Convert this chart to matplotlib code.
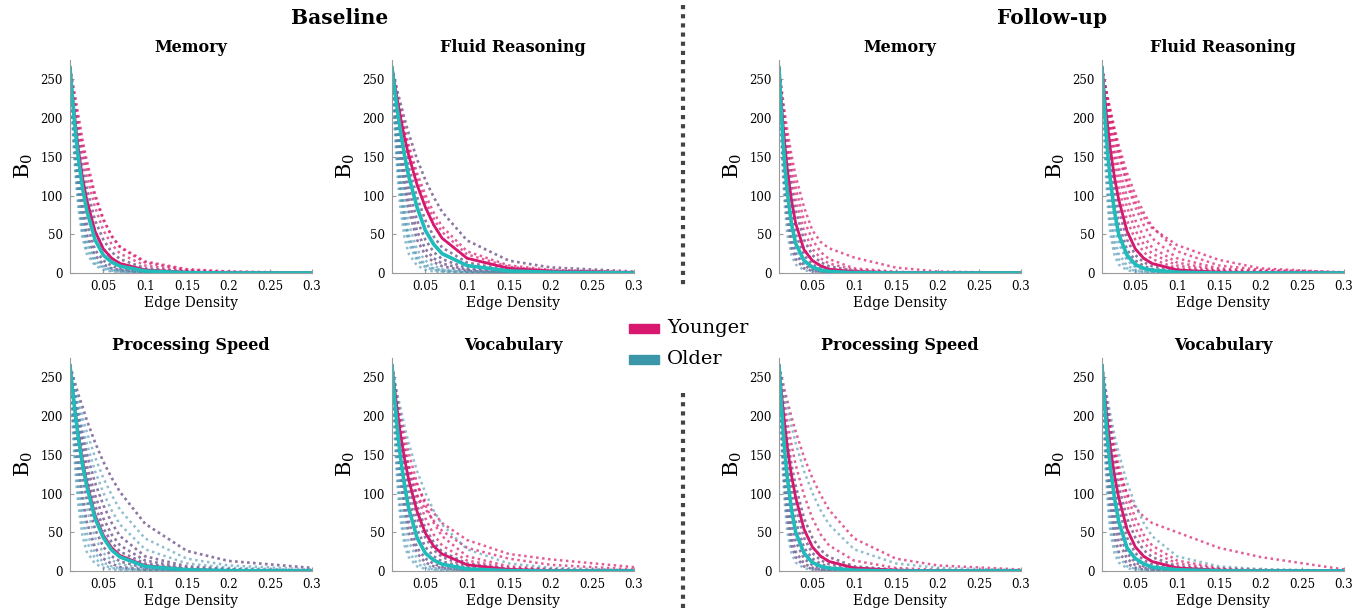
import matplotlib
matplotlib.use('Agg')
import matplotlib.pyplot as plt
from matplotlib.patches import Rectangle
from matplotlib.lines import Line2D
from matplotlib.ticker import FormatStrFormatter

plt.rcParams['font.family'] = ['DejaVu Serif']
plt.rcParams['mathtext.fontset'] = 'dejavuserif'

edge_density = [0.01, 0.0125, 0.015, 0.0175, 0.02, 0.025, 0.03, 0.04, 0.05, 0.06, 0.07, 0.1, 0.15, 0.2, 0.3]

titles = ['Memory', 'Fluid Reasoning', 'Processing Speed', 'Vocabulary']
groups = ['Younger', 'Older']

# ---------------- Baseline: Memory ----------------
bl_mem_younger = [
    [265, 220, 180, 147, 120, 79, 50, 23, 11, 6, 3.7, 1, 0, 0, 0],
    [265, 225, 190, 160, 134, 94, 64, 30, 16, 9.3, 5, 1.6, 0.2, 0, 0],
    [265, 231, 200, 172, 148, 110, 81, 43, 23, 14, 8.8, 2.6, 0.4, 0, 0],
    [265, 235, 208, 183, 160, 123, 95, 54, 31, 19, 12.3, 4, 1, 0.2, 0],
    [265, 239, 215, 193, 172, 137, 110, 68, 43, 27, 18, 6, 1.6, 0.4, 0],
    [265, 243, 222, 202, 184, 152, 125, 85, 55, 37, 25, 9.6, 2.6, 1, 0],
    [265, 246, 227, 210, 193, 163, 137, 98, 68, 47, 33, 13.5, 3.9, 1.5, 0.2],
    [265, 250, 236, 220, 204, 172, 146, 102, 70, 48, 34, 15, 5, 2, 0.3],
]
bl_mem_older = [
    [265, 202, 152, 114, 85, 45, 25, 9.6, 4.1, 1.9, 1.2, 0.1, 0, 0, 0],
    [265, 207, 160, 123, 94, 54, 31, 12.5, 5.8, 2.9, 1.6, 0.2, 0, 0, 0],
    [265, 212, 168, 132, 104, 63, 38, 16, 7.5, 3.9, 2, 0.4, 0, 0, 0],
    [265, 216, 174, 140, 112, 71, 44, 19.5, 9.2, 5, 2.8, 0.7, 0, 0, 0],
    [265, 220, 180, 147, 120, 79, 50, 23, 11, 6, 3.7, 1, 0, 0, 0],
    [265, 225, 190, 160, 134, 94, 64, 30, 16, 9.3, 5, 1.6, 0.2, 0, 0],
    [265, 231, 200, 172, 148, 110, 81, 43, 23, 14, 8.8, 2.6, 0.4, 0, 0],
    [265, 235, 208, 183, 160, 123, 95, 54, 31, 19, 12.3, 4, 1, 0.2, 0],
    [265, 239, 215, 193, 172, 137, 110, 68, 43, 27, 18, 6, 1.6, 0.4, 0],
]
bl_mem_younger_mean = [265, 235, 208, 183, 160, 123, 95, 54, 31, 19, 12.3, 4, 1, 0.2, 0]
bl_mem_older_mean = [265, 231, 200, 172, 148, 110, 81, 43, 23, 14, 8.8, 2.6, 0.4, 0, 0]

# ---------------- Baseline: Fluid Reasoning ----------------
bl_flu_younger = [
    [265, 231, 200, 172, 148, 110, 81, 43, 23, 14, 8.8, 2.6, 0.4, 0, 0],
    [265, 235, 208, 183, 160, 123, 95, 54, 31, 19, 12.3, 4, 1, 0.2, 0],
    [265, 239, 215, 193, 172, 137, 110, 68, 43, 27, 18, 6, 1.6, 0.4, 0],
    [265, 243, 222, 202, 184, 152, 125, 85, 55, 37, 25, 9.6, 2.6, 1, 0],
    [265, 246, 227, 210, 193, 163, 137, 98, 68, 47, 33, 13.5, 3.9, 1.5, 0.2],
    [265, 248, 232, 217, 202, 175, 152, 114, 85, 62, 45, 19, 6, 2.4, 0.4],
    [265, 250, 235, 220, 207, 181, 158, 121, 93, 70, 53, 24, 8, 3.2, 0.7],
    [265, 251, 237, 223, 211, 187, 165, 129, 101, 78, 60, 28, 9.8, 4.1, 1.1],
    [265, 253, 242, 230, 220, 199, 180, 147, 120, 98, 79, 42, 16, 7.2, 1.9],
]
bl_flu_older = [
    [265, 202, 152, 114, 85, 45, 25, 9.6, 4.1, 1.9, 1.2, 0.1, 0, 0, 0],
    [265, 212, 168, 132, 104, 63, 38, 16, 7.5, 3.9, 2, 0.4, 0, 0, 0],
    [265, 216, 174, 140, 112, 71, 44, 19.5, 9.2, 5, 2.8, 0.7, 0, 0, 0],
    [265, 220, 180, 147, 120, 79, 50, 23, 11, 6, 3.7, 1, 0, 0, 0],
    [265, 225, 190, 160, 134, 94, 64, 30, 16, 9.3, 5, 1.6, 0.2, 0, 0],
    [265, 231, 200, 172, 148, 110, 81, 43, 23, 14, 8.8, 2.6, 0.4, 0, 0],
    [265, 235, 208, 183, 160, 123, 95, 54, 31, 19, 12.3, 4, 1, 0.2, 0],
    [265, 239, 215, 193, 172, 137, 110, 68, 43, 27, 18, 6, 1.6, 0.4, 0],
    [265, 243, 222, 202, 184, 152, 125, 85, 55, 37, 25, 9.6, 2.6, 1, 0],
    [265, 246, 227, 210, 193, 163, 137, 98, 68, 47, 33, 13.5, 3.9, 1.5, 0.2],
    [265, 253, 242, 230, 220, 199, 180, 147, 120, 98, 79, 42, 16, 7.2, 1.9],
]
bl_flu_younger_mean = [265, 248, 232, 217, 202, 175, 152, 114, 85, 62, 45, 19, 6, 2.4, 0.4]
bl_flu_older_mean = [265, 243, 222, 202, 184, 152, 125, 85, 55, 37, 25, 9.6, 2.6, 1, 0]

# ---------------- Baseline: Processing Speed ----------------
bl_spd_younger = [
    [265, 225, 190, 160, 134, 94, 64, 30, 16, 9.3, 5, 1.6, 0.2, 0, 0],
    [265, 235, 208, 183, 160, 123, 95, 54, 31, 19, 12.3, 4, 1, 0.2, 0],
    [265, 239, 215, 193, 172, 137, 110, 68, 43, 27, 18, 6, 1.6, 0.4, 0],
    [265, 243, 222, 202, 184, 152, 125, 85, 55, 37, 25, 9.6, 2.6, 1, 0],
    [265, 246, 227, 210, 193, 163, 137, 98, 68, 47, 33, 13.5, 3.9, 1.5, 0.2],
    [265, 248, 232, 217, 202, 175, 152, 114, 85, 62, 45, 19, 6, 2.4, 0.4],
    [265, 256, 246, 237, 228, 212, 195, 166, 141, 120, 102, 61, 26, 13, 4],
]
bl_spd_older = [
    [265, 202, 152, 114, 85, 45, 25, 9.6, 4.1, 1.9, 1.2, 0.1, 0, 0, 0],
    [265, 212, 168, 132, 104, 63, 38, 16, 7.5, 3.9, 2, 0.4, 0, 0, 0],
    [265, 220, 180, 147, 120, 79, 50, 23, 11, 6, 3.7, 1, 0, 0, 0],
    [265, 225, 190, 160, 134, 94, 64, 30, 16, 9.3, 5, 1.6, 0.2, 0, 0],
    [265, 231, 200, 172, 148, 110, 81, 43, 23, 14, 8.8, 2.6, 0.4, 0, 0],
    [265, 235, 208, 183, 160, 123, 95, 54, 31, 19, 12.3, 4, 1, 0.2, 0],
    [265, 239, 215, 193, 172, 137, 110, 68, 43, 27, 18, 6, 1.6, 0.4, 0],
    [265, 243, 222, 202, 184, 152, 125, 85, 55, 37, 25, 9.6, 2.6, 1, 0],
    [265, 246, 227, 210, 193, 163, 137, 98, 68, 47, 33, 13.5, 3.9, 1.5, 0.2],
    [265, 248, 232, 217, 202, 175, 152, 114, 85, 62, 45, 19, 6, 2.4, 0.4],
    [265, 251, 237, 223, 211, 187, 165, 129, 101, 78, 60, 28, 9.8, 4.1, 1.1],
    [265, 253, 242, 230, 220, 199, 180, 147, 120, 98, 79, 42, 16, 7.2, 1.9],
    [265, 256, 246, 237, 228, 212, 195, 166, 141, 120, 102, 61, 26, 13, 4],
]
bl_spd_younger_mean = [265, 240, 217, 196, 176, 142, 115, 72, 46, 30, 20, 7, 1.8, 0.5, 0]
bl_spd_older_mean = [265, 239, 215, 193, 172, 137, 110, 68, 43, 27, 18, 6, 1.6, 0.4, 0]

# ---------------- Baseline: Vocabulary ----------------
bl_voc_younger = [
    [265, 220, 180, 147, 120, 79, 50, 23, 11, 6, 3.7, 1, 0, 0, 0],
    [265, 225, 190, 160, 134, 94, 64, 30, 16, 9.3, 5, 1.6, 0.2, 0, 0],
    [265, 231, 200, 172, 148, 110, 81, 43, 23, 14, 8.8, 2.6, 0.4, 0, 0],
    [265, 235, 208, 183, 160, 123, 95, 54, 31, 19, 12.3, 4, 1, 0.2, 0],
    [265, 239, 215, 193, 172, 137, 110, 68, 43, 27, 18, 6, 1.6, 0.4, 0],
    [265, 243, 222, 202, 184, 152, 125, 85, 55, 37, 25, 9.6, 2.6, 1, 0],
    [265, 246, 227, 210, 193, 163, 137, 98, 68, 47, 33, 13.5, 3.9, 1.5, 0.2],
    [265, 248, 232, 217, 202, 175, 152, 114, 85, 62, 45, 19, 6, 2.4, 0.4],
    [265, 240, 215, 194, 175, 145, 125, 98, 80, 65, 52, 30, 16, 8, 2],
    [265, 245, 222, 203, 185, 155, 135, 110, 90, 75, 62, 40, 22, 15, 5],
]
bl_voc_older = [
    [265, 193, 137, 98, 68, 33, 18, 6, 2.6, 1.3, 0.5, 0, 0, 0, 0],
    [265, 202, 152, 114, 85, 45, 25, 9.6, 4.1, 1.9, 1.2, 0.1, 0, 0, 0],
    [265, 212, 168, 132, 104, 63, 38, 16, 7.5, 3.9, 2, 0.4, 0, 0, 0],
    [265, 220, 180, 147, 120, 79, 50, 23, 11, 6, 3.7, 1, 0, 0, 0],
    [265, 225, 190, 160, 134, 94, 64, 30, 16, 9.3, 5, 1.6, 0.2, 0, 0],
    [265, 231, 200, 172, 148, 110, 81, 43, 23, 14, 8.8, 2.6, 0.4, 0, 0],
    [265, 235, 208, 183, 160, 123, 95, 54, 31, 19, 12.3, 4, 1, 0.2, 0],
    [265, 239, 215, 193, 172, 137, 110, 68, 43, 27, 18, 6, 1.6, 0.4, 0],
    [265, 243, 222, 202, 184, 152, 125, 85, 55, 37, 25, 9.6, 2.6, 1, 0],
    [265, 251, 237, 223, 211, 187, 165, 129, 101, 78, 60, 28, 9.8, 4.1, 1.1],
]
bl_voc_younger_mean = [265, 241, 219, 198, 178, 145, 118, 77, 49, 32, 22, 8, 2, 0.6, 0]
bl_voc_older_mean = [265, 231, 200, 172, 148, 110, 81, 43, 23, 14, 8.8, 2.6, 0.4, 0, 0]

# ---------------- Follow-up: Memory ----------------
fu_mem_younger = [
    [265, 193, 137, 98, 68, 33, 18, 6, 2.6, 1.3, 0.5, 0, 0, 0, 0],
    [265, 202, 152, 114, 85, 45, 25, 9.6, 4.1, 1.9, 1.2, 0.1, 0, 0, 0],
    [265, 212, 168, 132, 104, 63, 38, 16, 7.5, 3.9, 2, 0.4, 0, 0, 0],
    [265, 220, 180, 147, 120, 79, 50, 23, 11, 6, 3.7, 1, 0, 0, 0],
    [265, 225, 190, 160, 134, 94, 64, 30, 16, 9.3, 5, 1.6, 0.2, 0, 0],
    [265, 231, 200, 172, 148, 110, 81, 43, 23, 14, 8.8, 2.6, 0.4, 0, 0],
    [265, 235, 208, 183, 160, 123, 95, 54, 31, 19, 12.3, 4, 1, 0.2, 0],
    [265, 239, 215, 193, 172, 137, 110, 68, 43, 27, 18, 6, 1.6, 0.4, 0],
    [265, 243, 222, 202, 184, 152, 125, 85, 55, 40, 32, 20, 7, 2, 0],
]
fu_mem_older = [
    [265, 180, 120, 79, 50, 23, 11, 3.7, 1.5, 0.5, 0.2, 0, 0, 0, 0],
    [265, 193, 137, 98, 68, 33, 18, 6, 2.6, 1.3, 0.5, 0, 0, 0, 0],
    [265, 202, 152, 114, 85, 45, 25, 9.6, 4.1, 1.9, 1.2, 0.1, 0, 0, 0],
    [265, 207, 160, 123, 94, 54, 31, 12.5, 5.8, 2.9, 1.6, 0.2, 0, 0, 0],
    [265, 212, 168, 132, 104, 63, 38, 16, 7.5, 3.9, 2, 0.4, 0, 0, 0],
    [265, 220, 180, 147, 120, 79, 50, 23, 11, 6, 3.7, 1, 0, 0, 0],
    [265, 225, 190, 160, 134, 94, 64, 30, 16, 9.3, 5, 1.6, 0.2, 0, 0],
    [265, 231, 200, 172, 148, 110, 81, 43, 23, 14, 8.8, 2.6, 0.4, 0, 0],
]
fu_mem_younger_mean = [265, 225, 190, 160, 134, 94, 64, 30, 16, 9.3, 5, 1.6, 0.2, 0, 0]
fu_mem_older_mean = [265, 212, 168, 132, 104, 63, 38, 16, 7.5, 3.9, 2, 0.4, 0, 0, 0]

# ---------------- Follow-up: Fluid Reasoning ----------------
fu_flu_younger = [
    [265, 220, 180, 147, 120, 79, 50, 23, 11, 6, 3.7, 1, 0, 0, 0],
    [265, 225, 190, 160, 134, 94, 64, 30, 16, 9.3, 5, 1.6, 0.2, 0, 0],
    [265, 231, 200, 172, 148, 110, 81, 43, 23, 14, 8.8, 2.6, 0.4, 0, 0],
    [265, 235, 208, 183, 160, 123, 95, 54, 31, 19, 12.3, 4, 1, 0.2, 0],
    [265, 239, 215, 193, 172, 137, 110, 68, 43, 27, 18, 6, 1.6, 0.4, 0],
    [265, 243, 222, 202, 184, 152, 125, 85, 55, 37, 25, 9.6, 2.6, 1, 0],
    [265, 246, 227, 210, 193, 163, 137, 98, 68, 47, 33, 13.5, 3.9, 1.5, 0.2],
    [265, 248, 232, 217, 202, 175, 152, 114, 85, 62, 45, 19, 6, 2.4, 0.4],
    [265, 251, 237, 223, 211, 187, 165, 129, 101, 78, 60, 28, 9.8, 4.1, 1.1],
    [265, 250, 236, 222, 208, 182, 158, 120, 92, 72, 58, 36, 17, 6, 0.5],
]
fu_flu_older = [
    [265, 180, 120, 79, 50, 23, 11, 3.7, 1.5, 0.5, 0.2, 0, 0, 0, 0],
    [265, 193, 137, 98, 68, 33, 18, 6, 2.6, 1.3, 0.5, 0, 0, 0, 0],
    [265, 202, 152, 114, 85, 45, 25, 9.6, 4.1, 1.9, 1.2, 0.1, 0, 0, 0],
    [265, 212, 168, 132, 104, 63, 38, 16, 7.5, 3.9, 2, 0.4, 0, 0, 0],
    [265, 216, 174, 140, 112, 71, 44, 19.5, 9.2, 5, 2.8, 0.7, 0, 0, 0],
    [265, 220, 180, 147, 120, 79, 50, 23, 11, 6, 3.7, 1, 0, 0, 0],
    [265, 225, 190, 160, 134, 94, 64, 30, 16, 9.3, 5, 1.6, 0.2, 0, 0],
    [265, 231, 200, 172, 148, 110, 81, 43, 23, 14, 8.8, 2.6, 0.4, 0, 0],
    [265, 235, 208, 183, 160, 123, 95, 54, 31, 19, 12.3, 4, 1, 0.2, 0],
]
fu_flu_younger_mean = [265, 235, 208, 183, 160, 123, 95, 54, 31, 19, 12.3, 4, 1, 0.2, 0]
fu_flu_older_mean = [265, 220, 180, 147, 120, 79, 50, 23, 11, 6, 3.7, 1, 0, 0, 0]

# ---------------- Follow-up: Processing Speed ----------------
fu_spd_younger = [
    [265, 193, 137, 98, 68, 33, 18, 6, 2.6, 1.3, 0.5, 0, 0, 0, 0],
    [265, 202, 152, 114, 85, 45, 25, 9.6, 4.1, 1.9, 1.2, 0.1, 0, 0, 0],
    [265, 212, 168, 132, 104, 63, 38, 16, 7.5, 3.9, 2, 0.4, 0, 0, 0],
    [265, 220, 180, 147, 120, 79, 50, 23, 11, 6, 3.7, 1, 0, 0, 0],
    [265, 225, 190, 160, 134, 94, 64, 30, 16, 9.3, 5, 1.6, 0.2, 0, 0],
    [265, 231, 200, 172, 148, 110, 81, 43, 23, 14, 8.8, 2.6, 0.4, 0, 0],
    [265, 235, 208, 183, 160, 123, 95, 54, 31, 19, 12.3, 4, 1, 0.2, 0],
    [265, 239, 215, 193, 172, 137, 110, 68, 43, 27, 18, 6, 1.6, 0.4, 0],
    [265, 246, 227, 210, 193, 163, 137, 98, 68, 47, 33, 13.5, 3.9, 1.5, 0.2],
    [265, 253, 242, 230, 220, 199, 180, 147, 120, 98, 79, 42, 16, 7.2, 1.9],
]
fu_spd_older = [
    [265, 180, 120, 79, 50, 23, 11, 3.7, 1.5, 0.5, 0.2, 0, 0, 0, 0],
    [265, 193, 137, 98, 68, 33, 18, 6, 2.6, 1.3, 0.5, 0, 0, 0, 0],
    [265, 202, 152, 114, 85, 45, 25, 9.6, 4.1, 1.9, 1.2, 0.1, 0, 0, 0],
    [265, 212, 168, 132, 104, 63, 38, 16, 7.5, 3.9, 2, 0.4, 0, 0, 0],
    [265, 220, 180, 147, 120, 79, 50, 23, 11, 6, 3.7, 1, 0, 0, 0],
    [265, 225, 190, 160, 134, 94, 64, 30, 16, 9.3, 5, 1.6, 0.2, 0, 0],
    [265, 231, 200, 172, 148, 110, 81, 43, 23, 14, 8.8, 2.6, 0.4, 0, 0],
    [265, 235, 208, 183, 160, 123, 95, 54, 31, 19, 12.3, 4, 1, 0.2, 0],
    [265, 239, 215, 193, 172, 137, 110, 68, 43, 27, 18, 6, 1.6, 0.4, 0],
    [265, 251, 237, 223, 211, 187, 165, 129, 101, 78, 60, 28, 9.8, 4.1, 1.1],
]
fu_spd_younger_mean = [265, 235, 208, 183, 160, 123, 95, 54, 31, 19, 12.3, 4, 1, 0.2, 0]
fu_spd_older_mean = [265, 220, 180, 147, 120, 79, 50, 23, 11, 6, 3.7, 1, 0, 0, 0]

# ---------------- Follow-up: Vocabulary ----------------
fu_voc_younger = [
    [265, 202, 152, 114, 85, 45, 25, 9.6, 4.1, 1.9, 1.2, 0.1, 0, 0, 0],
    [265, 212, 168, 132, 104, 63, 38, 16, 7.5, 3.9, 2, 0.4, 0, 0, 0],
    [265, 220, 180, 147, 120, 79, 50, 23, 11, 6, 3.7, 1, 0, 0, 0],
    [265, 225, 190, 160, 134, 94, 64, 30, 16, 9.3, 5, 1.6, 0.2, 0, 0],
    [265, 231, 200, 172, 148, 110, 81, 43, 23, 14, 8.8, 2.6, 0.4, 0, 0],
    [265, 235, 208, 183, 160, 123, 95, 54, 31, 19, 12.3, 4, 1, 0.2, 0],
    [265, 239, 215, 193, 172, 137, 110, 68, 43, 27, 18, 6, 1.6, 0.4, 0],
    [265, 243, 222, 202, 184, 152, 125, 85, 55, 37, 25, 9.6, 2.6, 1, 0],
    [265, 246, 227, 210, 193, 163, 137, 98, 68, 47, 33, 13.5, 3.9, 1.5, 0.2],
    [265, 240, 218, 198, 180, 150, 128, 100, 82, 70, 62, 50, 30, 18, 2],
]
fu_voc_older = [
    [265, 180, 120, 79, 50, 23, 11, 3.7, 1.5, 0.5, 0.2, 0, 0, 0, 0],
    [265, 193, 137, 98, 68, 33, 18, 6, 2.6, 1.3, 0.5, 0, 0, 0, 0],
    [265, 202, 152, 114, 85, 45, 25, 9.6, 4.1, 1.9, 1.2, 0.1, 0, 0, 0],
    [265, 212, 168, 132, 104, 63, 38, 16, 7.5, 3.9, 2, 0.4, 0, 0, 0],
    [265, 220, 180, 147, 120, 79, 50, 23, 11, 6, 3.7, 1, 0, 0, 0],
    [265, 225, 190, 160, 134, 94, 64, 30, 16, 9.3, 5, 1.6, 0.2, 0, 0],
    [265, 231, 200, 172, 148, 110, 81, 43, 23, 14, 8.8, 2.6, 0.4, 0, 0],
    [265, 235, 208, 183, 160, 123, 95, 54, 31, 19, 12.3, 4, 1, 0.2, 0],
    [265, 239, 215, 193, 172, 137, 110, 68, 43, 27, 18, 6, 1.6, 0.4, 0],
    [265, 248, 232, 217, 202, 175, 152, 114, 85, 62, 45, 19, 6, 2.4, 0.4],
]
fu_voc_younger_mean = [265, 235, 208, 183, 160, 123, 95, 54, 31, 19, 12.3, 4, 1, 0.2, 0]
fu_voc_older_mean = [265, 225, 190, 160, 134, 94, 64, 30, 16, 9.3, 5, 1.6, 0.2, 0, 0]

PINK = '#d8186e'
TEAL = '#3b97a8'
TEAL_DOT = '#4592b0'
TEAL_LINE = '#1fbcbc'
W, H = 1364, 616

# (left px, top px) of every panel; width / height in px
col_left = [70, 392, 779, 1102]
row_top = [60, 358]
ax_w, ax_h = 242, 213

panels = [
    (0, 0, titles[0], bl_mem_younger, bl_mem_older, bl_mem_younger_mean, bl_mem_older_mean),
    (0, 1, titles[1], bl_flu_younger, bl_flu_older, bl_flu_younger_mean, bl_flu_older_mean),
    (1, 0, titles[2], bl_spd_younger, bl_spd_older, bl_spd_younger_mean, bl_spd_older_mean),
    (1, 1, titles[3], bl_voc_younger, bl_voc_older, bl_voc_younger_mean, bl_voc_older_mean),
    (0, 2, titles[0], fu_mem_younger, fu_mem_older, fu_mem_younger_mean, fu_mem_older_mean),
    (0, 3, titles[1], fu_flu_younger, fu_flu_older, fu_flu_younger_mean, fu_flu_older_mean),
    (1, 2, titles[2], fu_spd_younger, fu_spd_older, fu_spd_younger_mean, fu_spd_older_mean),
    (1, 3, titles[3], fu_voc_younger, fu_voc_older, fu_voc_younger_mean, fu_voc_older_mean),
]

fig = plt.figure(figsize=(W / 100, H / 100), dpi=100)

for row, col, title, young, old, young_mean, old_mean in panels:
    left = col_left[col] / W
    bottom = 1 - (row_top[row] + ax_h) / H
    ax = fig.add_axes([left, bottom, ax_w / W, ax_h / H])
    for c in young:
        ax.plot(edge_density, c, color=PINK, lw=1.8, ls=(0, (1, 1.4)), alpha=0.7)
    for c in old:
        ax.plot(edge_density, c, color=TEAL_DOT, lw=1.8, ls=(0, (1, 1.4)), alpha=0.6)
    ax.plot(edge_density, young_mean, color=PINK, lw=2.0)
    ax.plot(edge_density, old_mean, color=TEAL_LINE, lw=2.6)
    ax.set_xlim(0.01, 0.3)
    ax.set_ylim(0, 275)
    ax.set_xticks([0.05, 0.1, 0.15, 0.2, 0.25, 0.3])
    ax.set_yticks([0, 50, 100, 150, 200, 250])
    ax.xaxis.set_major_formatter(FormatStrFormatter('%g'))
    ax.tick_params(direction='in', length=3, color='#9a9a9a', labelsize=8.5, pad=5)
    for s in ['top', 'right']:
        ax.spines[s].set_visible(False)
    for s in ['left', 'bottom']:
        ax.spines[s].set_color('#9a9a9a')
    ax.set_title(title, fontweight='bold', fontsize=11.5, pad=6)
    ax.set_xlabel('Edge Density', fontsize=10, labelpad=2)
    ax.set_ylabel('B$_0$', fontsize=15, labelpad=4)

fig.text(340 / W, 1 - 18 / H, 'Baseline', ha='center', va='center', fontsize=14.5, fontweight='bold')
fig.text(1052 / W, 1 - 18 / H, 'Follow-up', ha='center', va='center', fontsize=14.5, fontweight='bold')

# dotted divider between baseline and follow-up
for y0, y1 in [(5, 285), (393, 612)]:
    fig.add_artist(Line2D([683 / W, 683 / W], [1 - y0 / H, 1 - y1 / H], color='#444444', lw=3,
                          ls=(0, (1, 1.2))))

# legend
for i, (name, colr) in enumerate(zip(groups, [PINK, TEAL])):
    yc = [328, 359][i]
    fig.add_artist(Rectangle((629 / W, 1 - (yc + 4.5) / H), 30 / W, 9 / H, color=colr,
                             transform=fig.transFigure))
    fig.text(667 / W, 1 - yc / H, name, ha='left', va='center', fontsize=14)

plt.savefig('out.png', dpi=100)
